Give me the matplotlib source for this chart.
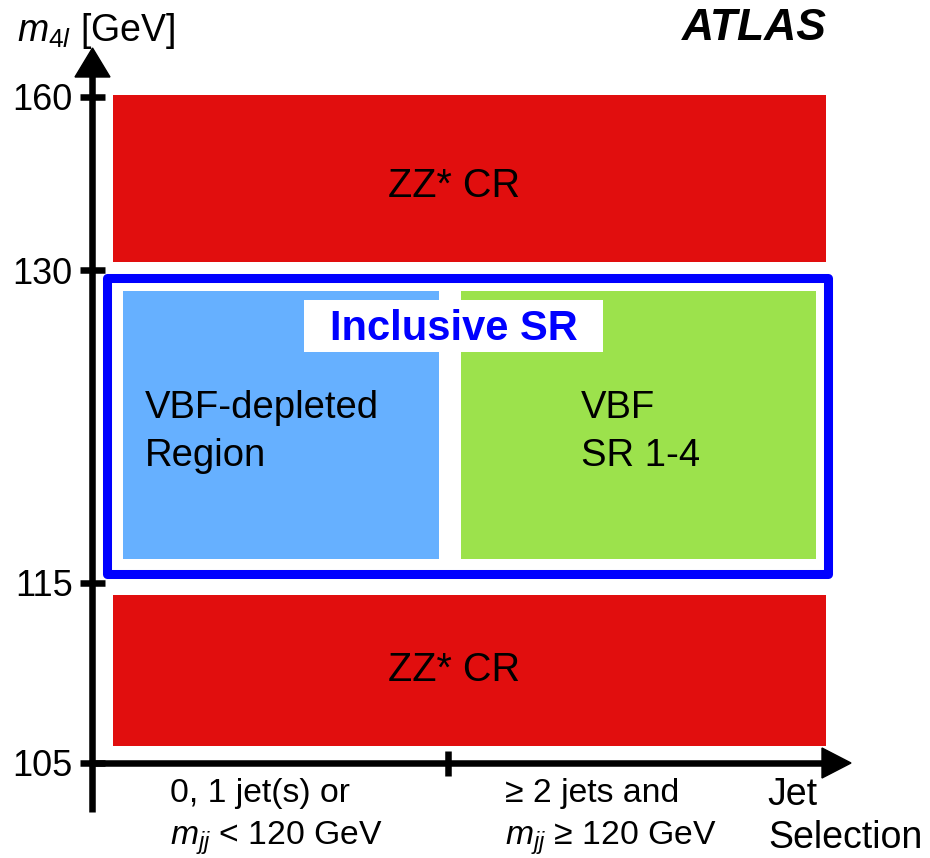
import numpy as np
import matplotlib
matplotlib.use("Agg")
import matplotlib.pyplot as plt
from matplotlib.lines import Line2D
from matplotlib.patches import Polygon, Rectangle

plt.rcParams['font.family'] = ['Liberation Sans', 'DejaVu Sans']
plt.rcParams['mathtext.fontset'] = 'custom'
plt.rcParams['mathtext.rm'] = 'Liberation Sans'
plt.rcParams['mathtext.it'] = 'Liberation Sans:italic'
plt.rcParams['mathtext.bf'] = 'Liberation Sans:bold'

# ---------------- data ----------------
mass_ticks = [105, 115, 130, 160]
mass_tick_labels = ['105', '115', '130', '160']

region_names = ['ZZ* CR', 'VBF-depleted\nRegion', 'VBF\nSR 1-4', 'ZZ* CR']
region_m_low = [131.4, 116.15, 116.15, 105.95]
region_m_high = [160.35, 129.0, 129.0, 114.35]
region_jet_low = [0.06, 0.086, 1.036, 0.06]
region_jet_high = [2.062, 0.975, 2.034, 2.062]
region_colors = ['#E10E0E', '#66B0FF', '#9CE24C', '#E10E0E']

incl_m_low, incl_m_high = 115.45, 129.6
incl_jet_low, incl_jet_high = 0.0435, 2.067

jet_bin_edges = [1]
jet_bin_labels = ['0, 1 jet(s) or\n$m_{jj}$ < 120 GeV',
                  '≥ 2 jets and\n$m_{jj}$ ≥ 120 GeV']

# ---------------- schematic (non-linear) mass scale ----------------
SCALE_MASS = np.array([85.0, 105.0, 115.0, 130.0, 160.0, 200.0])
SCALE_POS = np.array([-360.0, 0.0, 180.0, 493.0, 666.0, 896.7])


def fwd(m):
    return np.interp(m, SCALE_MASS, SCALE_POS)


def inv(p):
    return np.interp(p, SCALE_POS, SCALE_MASS)


W, H = 930, 858
fig = plt.figure(figsize=(W / 100, H / 100), dpi=100)


def fx(px):
    return px / W


def fy(py):
    return 1 - py / H


ax = fig.add_axes([fx(92), fy(763), fx(850) - fx(92), fy(48) - fy(763)])
ax.set_facecolor('none')
ax.set_xlim(0, 758 / 356)
ax.set_yscale('function', functions=(fwd, inv))
ax.set_ylim(105, float(inv(715)))
for s in ax.spines.values():
    s.set_visible(False)

# regions
for x0, x1, m0, m1, c in zip(region_jet_low, region_jet_high,
                             region_m_low, region_m_high, region_colors):
    ax.bar(x0, m1 - m0, width=x1 - x0, bottom=m0, align='edge',
           color=c, edgecolor='none', zorder=1)

# inclusive SR outline
ax.bar(incl_jet_low, incl_m_high - incl_m_low, width=incl_jet_high - incl_jet_low,
       bottom=incl_m_low, align='edge', fill=False, edgecolor='#0000FF',
       linewidth=6.5, joinstyle='round', zorder=2)

# ticks
ax.set_yticks(mass_ticks)
ax.set_yticklabels(mass_tick_labels)
ax.set_xticks(jet_bin_edges)
ax.set_xticklabels([''] * len(jet_bin_edges))
ax.yaxis.set_minor_locator(matplotlib.ticker.NullLocator())
ax.tick_params(axis='y', direction='inout', length=18, width=4.7, pad=5,
               labelsize=26, color='black')
ax.tick_params(axis='x', direction='inout', length=18, width=4.7, color='black')

# axis lines and arrow heads
fig.add_artist(Line2D([fx(92), fx(92)], [fy(812), fy(70)], lw=4.7, color='k',
                      transform=fig.transFigure, solid_capstyle='butt'))
fig.add_artist(Line2D([fx(89), fx(830)], [fy(763), fy(763)], lw=4.7, color='k',
                      transform=fig.transFigure, solid_capstyle='butt'))
fig.add_artist(Polygon([(fx(75), fy(77)), (fx(110), fy(77)), (fx(92.5), fy(48))],
                       closed=True, color='k', transform=fig.transFigure))
fig.add_artist(Polygon([(fx(822), fy(748)), (fx(822), fy(778)), (fx(851), fy(763))],
                       closed=True, color='k', transform=fig.transFigure))

# region labels
fig.text(fx(454), fy(197), region_names[0], fontsize=28.5, ha='center', va='baseline')
fig.text(fx(454), fy(681), region_names[3], fontsize=28.5, ha='center', va='baseline')
for (xl, name) in [(145, region_names[1]), (581, region_names[2])]:
    l1, l2 = name.split('\n')
    fig.text(fx(xl), fy(418), l1, fontsize=27.5, ha='left', va='baseline')
    fig.text(fx(xl), fy(466), l2, fontsize=27.5, ha='left', va='baseline')

# inclusive SR label with white box
fig.add_artist(Rectangle((fx(304), fy(352)), fx(603) - fx(304), fy(300) - fy(352),
                         facecolor='white', edgecolor='none', transform=fig.transFigure,
                         zorder=3))
fig.text(fx(454), fy(340), 'Inclusive SR', fontsize=30, fontweight='bold',
         color='#0000FF', ha='center', va='baseline', zorder=4)

# x bin labels
lines0 = jet_bin_labels[0].split('\n')
lines1 = jet_bin_labels[1].split('\n')
fig.text(fx(170), fy(802), lines0[0], fontsize=24.3, ha='left', va='baseline')
fig.text(fx(170), fy(845), lines0[1], fontsize=24.3, ha='left', va='baseline')
fig.text(fx(505), fy(802), lines1[0], fontsize=24.3, ha='left', va='baseline')
fig.text(fx(505), fy(845), lines1[1], fontsize=24.3, ha='left', va='baseline')
fig.text(fx(767), fy(805), 'Jet', fontsize=27, ha='left', va='baseline')
fig.text(fx(768), fy(848), 'Selection', fontsize=27, ha='left', va='baseline')

# axis title and ATLAS label
fig.text(fx(17), fy(41), r'$m_{\mathit{4l}}$ [GeV]', fontsize=27, ha='left', va='baseline')
fig.text(fx(682), fy(40), 'ATLAS', fontsize=32, fontweight='bold', fontstyle='italic',
         ha='left', va='baseline')

fig.savefig('out.png', dpi=100)
